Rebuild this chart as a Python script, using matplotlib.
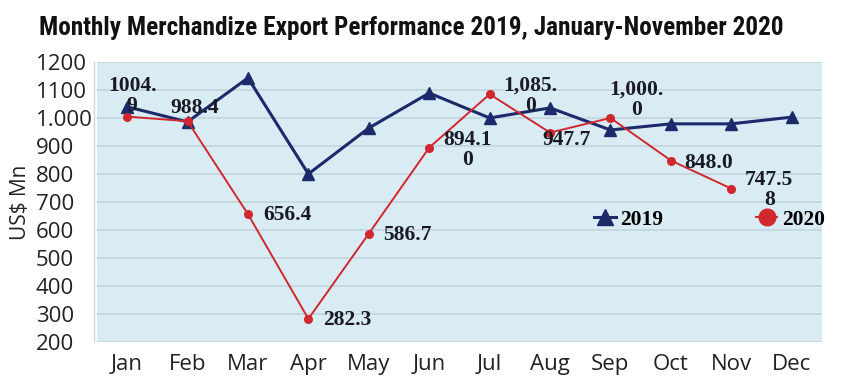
import matplotlib
matplotlib.use("Agg")
import matplotlib.pyplot as plt
from matplotlib import font_manager
from matplotlib.ticker import FixedLocator, FixedFormatter

months = ["Jan", "Feb", "Mar", "Apr", "May", "Jun", "Jul", "Aug", "Sep", "Oct", "Nov", "Dec"]
exports_2019 = [1040, 986, 1143, 800, 964, 1089, 1000, 1036, 957, 979, 979, 1003]
exports_2020 = [1004.9, 988.4, 656.4, 282.3, 586.7, 894.1, 1085.0, 947.7, 1000.0, 848.0, 747.58]
labels_2020 = ["1004.\n9", "988.4", "656.4", "282.3", "586.7", "894.1\n0", "1,085.\n0",
               "947.7", "1,000.\n0", "848.0", "747.5\n8"]
y_ticks = [200, 300, 400, 500, 600, 700, 800, 900, 1000, 1100, 1200]
y_tick_labels = ["200", "300", "400", "500", "600", "700", "800", "900", "1.000", "1100", "1200"]
title = "Monthly Merchandize Export Performance 2019, January-November 2020"

# label centre offsets from the point, in points (dx, dy)
label_offsets = [(3.6, 14.5), (5, 9.4), (28.4, -0.7), (27.7, -0.7), (27.7, -0.9),
                 (27.7, -1.7), (29.5, -1.1), (12.2, -5.3), (18.7, 13), (27.4, -1.7),
                 (27.4, -0.9)]

navy = "#1c2a6b"
red = "#d0282e"
sans = ["Open Sans", "DejaVu Sans"]
serif = ["Liberation Serif", "DejaVu Serif"]

fig = plt.figure(figsize=(8.5, 3.85), dpi=100)
fig.patch.set_facecolor("white")
ax = fig.add_axes([0.114, 0.112, 0.853, 0.727])
ax.set_facecolor("#d9ecf3")

x = list(range(len(months)))
ax.plot(x, exports_2019, color=navy, lw=2.2, marker="^", ms=8, label="2019", zorder=3)
ax.plot(x[:len(exports_2020)], exports_2020, color=red, lw=1.4, marker="o", ms=5.5,
        label="2020", zorder=4)

for i, (v, lab) in enumerate(zip(exports_2020, labels_2020)):
    dx, dy = label_offsets[i]
    ax.annotate(lab, (i, v), xytext=(dx, dy), textcoords="offset points", ha="center",
                va="center", fontsize=15.5, fontweight="bold", family=serif,
                color="#1a1a24", linespacing=1.0, zorder=5)

ax.set_xlim(-0.5, 11.5)
ax.set_ylim(200, 1200)
ax.yaxis.set_major_locator(FixedLocator(y_ticks))
ax.yaxis.set_major_formatter(FixedFormatter(y_tick_labels))
ax.set_xticks(x)
ax.set_xticklabels(months)
ax.grid(axis="y", color="#c3d6dd", lw=1.2)
ax.set_axisbelow(True)
for name, s in ax.spines.items():
    s.set_visible(False)
ax.spines["left"].set_visible(True)
ax.spines["left"].set_color("#d4d4d4")
ax.spines["left"].set_linewidth(1.0)
ax.spines["left"].set_position(("outward", 2))
ax.tick_params(length=0, labelsize=16, labelcolor="#222222")
ax.tick_params(axis="y", pad=42)
ax.tick_params(axis="x", pad=9)
for t in ax.get_xticklabels() + ax.get_yticklabels():
    t.set_family(sans)
for t in ax.get_yticklabels():
    t.set_horizontalalignment("left")
ax.set_ylabel("US$ Mn", fontsize=15, family=sans, color="#222222")
ax.yaxis.set_label_coords(-0.091, 0.5)

leg = ax.legend(loc="center", bbox_to_anchor=(0.845, 0.436), ncol=2, frameon=False,
                handlelength=1.0, handletextpad=0.2, columnspacing=4.3,
                prop={"family": serif, "weight": "bold", "size": 15.5})
for h in leg.legend_handles:
    h.set_markersize(12)

# title in a narrow heavy face, scaled to the reference width
fam = "DejaVu Sans"
for cand in ["Roboto Condensed", "Open Sans Condensed", "Liberation Sans Narrow", "Roboto"]:
    try:
        font_manager.findfont(font_manager.FontProperties(family=cand), fallback_to_default=False)
        fam = cand
        break
    except Exception:
        pass
ttl = fig.text(411 / 850, 1 - 28 / 385, title, ha="center", va="center", fontsize=16,
               fontweight="black", family=[fam, "DejaVu Sans"], color="#111111")
r = fig.canvas.get_renderer()
w = ttl.get_window_extent(r).width
ttl.set_fontsize(16 * 743 / w)

fig.savefig("out.png", dpi=100)
